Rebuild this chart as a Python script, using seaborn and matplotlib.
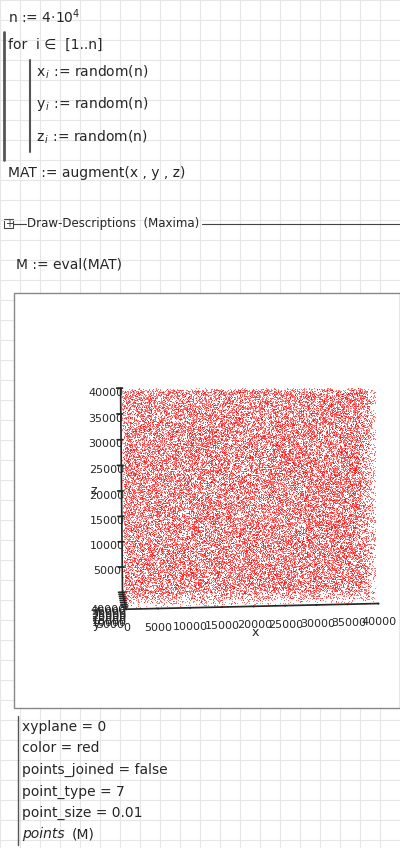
import numpy as np
import matplotlib
matplotlib.use("Agg")
import matplotlib.pyplot as plt
import seaborn as sns

sns.set_theme(style="white")
plt.rcParams['font.family'] = ['DejaVu Sans']

n = 40000
axis_ticks = [5000, 10000, 15000, 20000, 25000, 30000, 35000, 40000]
# data as in the worksheet: random(n) for each coordinate (seeded)
rng = np.random.default_rng(7)
xs = rng.random(n) * n
ys = rng.random(n) * n
zs = rng.random(n) * n

W, H = 400, 848
fig = plt.figure(figsize=(W/100, H/100), dpi=100)
bg = fig.add_axes([0, 0, 1, 1])
bg.set_xlim(0, W); bg.set_ylim(H, 0); bg.axis('off')
for g in range(0, W, 20):
    bg.axvline(g, color='#e6e6e6', lw=0.8)
for g in range(0, H, 20):
    bg.axhline(g, color='#e6e6e6', lw=0.8)

fs = 10
def t(x, y, s, **k):
    bg.text(x, y, s, fontsize=k.pop('fs', fs), va='center', ha='left', **k)

t(8, 17, r"n := 4·10$^{4}$")
t(8, 45, "for  i ∈  [1..n]")
bg.plot([4, 4], [32, 160], color='#555', lw=2)
bg.plot([30, 30], [60, 152], color='#555', lw=1.5)
t(36, 72, r"x$_{\,i}$ := random(n)")
t(36, 104, r"y$_{\,i}$ := random(n)")
t(36, 137, r"z$_{\,i}$ := random(n)")
t(8, 173, "MAT := augment(x , y , z)")
bg.add_patch(plt.Rectangle((4, 219), 9, 9, fill=False, ec='#444', lw=0.8))
t(5.5, 224, "+", fs=7)
bg.plot([13, 26], [224, 224], color='#444', lw=0.8)
t(27, 224, "Draw-Descriptions  (Maxima)", fs=8.5)
bg.plot([202, 400], [224, 224], color='#444', lw=0.8)
t(16, 265, "M := eval(MAT)")
bg.add_patch(plt.Rectangle((14, 293), 386, 415, facecolor='white', ec='#888', lw=1, zorder=2))
lines = ["xyplane = 0", "color = red", "points_joined = false",
         "point_type = 7", "point_size = 0.01"]
for i, s in enumerate(lines):
    t(22, 727 + i*21.5, s)
t(22, 834, "points", style='italic')
t(72, 834, "(M)")
bg.plot([18, 18], [716, 845], color='#555', lw=1)

ax = fig.add_axes([0.16, 0.258, 0.9, 0.31], projection='3d')
ax.set_facecolor('none')
ax.scatter(xs, ys, zs, s=0.9, c='red', marker='.', linewidths=0, depthshade=False)
ax.view_init(elev=6, azim=-97)
ax.set_box_aspect((1.3, 0.5, 1.1), zoom=1.25)
for a in (ax.xaxis, ax.yaxis, ax.zaxis):
    a.pane.fill = False
    a.pane.set_edgecolor('none')
    a._axinfo['grid']['linewidth'] = 0
ax.grid(False)
ax.set_xticks([0] + axis_ticks); ax.set_yticks(axis_ticks); ax.set_zticks(axis_ticks)
ax.tick_params(labelsize=8, pad=-2)
ax.set_xlabel('x', labelpad=-10, fontsize=9)
ax.set_ylabel('y', labelpad=-10, fontsize=9)
ax.set_zlabel('z', labelpad=-10, fontsize=9)
ax.set_xlim(0, n); ax.set_ylim(0, n); ax.set_zlim(0, n)

fig.savefig("out.png", dpi=100)
